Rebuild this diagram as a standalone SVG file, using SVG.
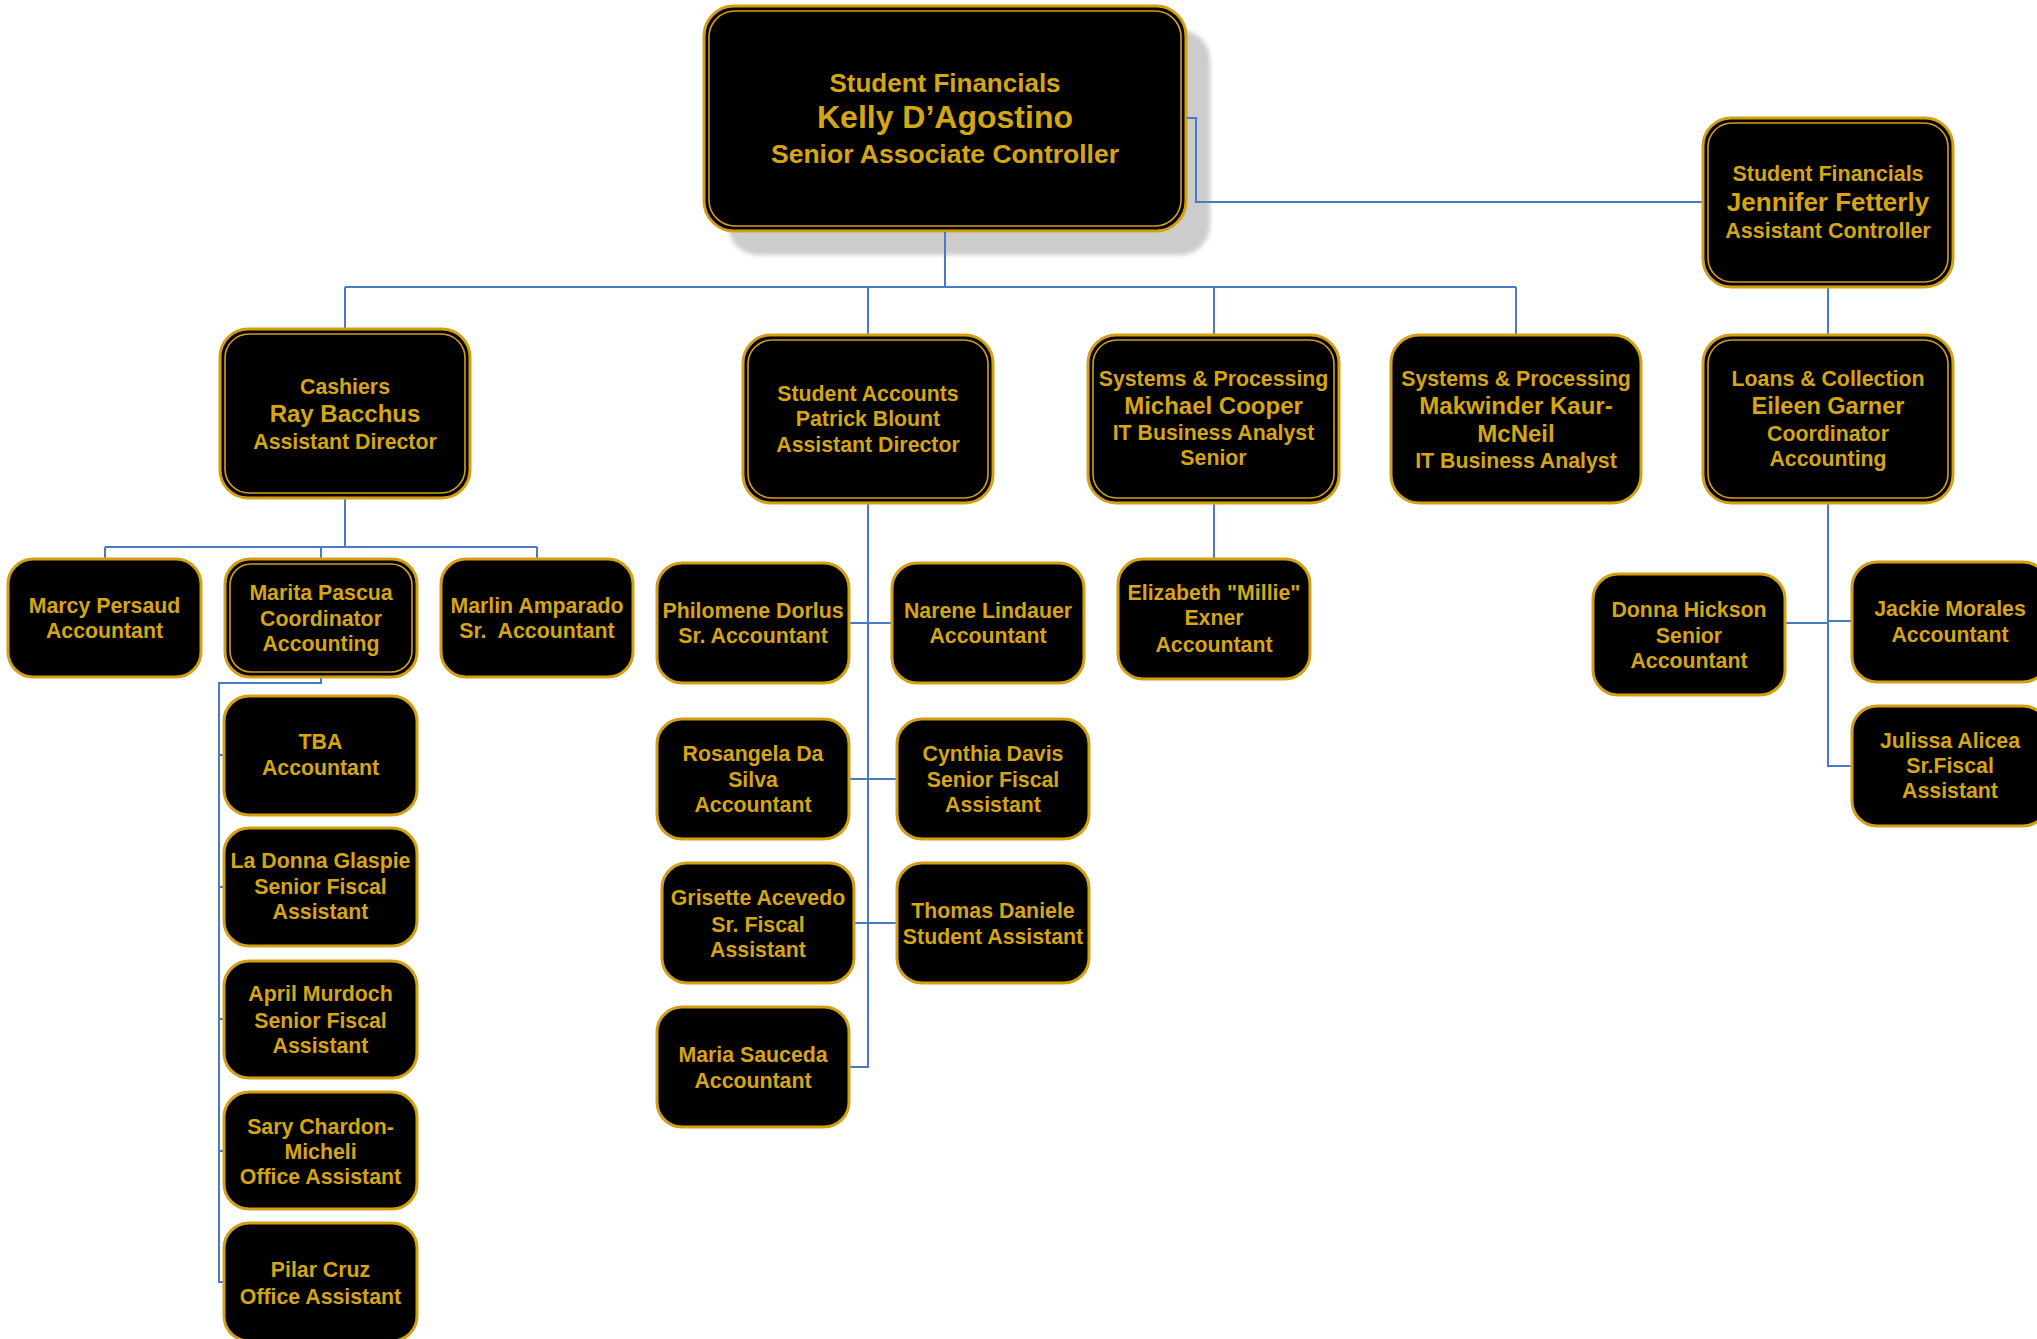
<svg xmlns="http://www.w3.org/2000/svg" width="2037" height="1339" viewBox="0 0 2037 1339">
<defs>
<filter id="soft" x="-5%" y="-5%" width="110%" height="110%"><feGaussianBlur stdDeviation="2"/></filter>
</defs>
<style>
.box{fill:#000;stroke:#D4A012;stroke-width:3}
.inner{fill:none;stroke:#D4A012;stroke-width:1.6}
.t{font-family:"Liberation Sans",Arial,sans-serif;font-weight:bold;fill:#D6A512;text-anchor:middle;font-size:21.3px}
.n{font-size:24px}
.c{stroke:#4A7AC6;stroke-width:2;fill:none}
</style>
<rect width="2037" height="1339" fill="#fff"/>
<g id="n-top">
<rect x="728" y="30" width="482" height="225" rx="30" fill="#CCCCCC" filter="url(#soft)"/>
<rect class="box" x="704" y="6" width="482" height="225" rx="30"/>
<rect class="inner" x="709" y="11" width="472" height="215" rx="26"/>
<text class="t" x="945" y="92" style="font-size:26px">Student Financials</text>
<text class="t" x="945" y="128" style="font-size:32px">Kelly D’Agostino</text>
<text class="t" x="945" y="163" style="font-size:26.5px">Senior Associate Controller</text>
</g>
<g id="connectors">
<path class="c" d="M1187,118 H1196 V202 H1703"/>
<path class="c" d="M945,232 V287"/>
<path class="c" d="M345,287 H1516"/>
<path class="c" d="M345,287 V328 M868,287 V334 M1214,287 V334 M1516,287 V334"/>
<path class="c" d="M1828,288 V334"/>
<path class="c" d="M1828,504 V766 H1851 M1786,623 H1828 M1828,621 H1851"/>
<path class="c" d="M345,499 V547 M105,547 H537 M105,547 V558 M321,547 V558 M537,547 V558"/>
<path class="c" d="M321,678 V683 H219 V1282 H223 M219,755 H223 M219,887 H223 M219,1019 H223 M219,1151 H223"/>
<path class="c" d="M868,504 V1067 H850 M850,623 H891 M850,779 H896 M855,923 H896"/>
<path class="c" d="M1214,504 V558"/>
</g>
<g id="n-jennifer">
<rect class="box" x="1703" y="118" width="250" height="169" rx="28"/>
<rect class="inner" x="1708" y="123" width="240" height="159" rx="24"/>
<text class="t" x="1828" y="181" style="font-size:21.5px">Student Financials</text>
<text class="t" x="1828" y="211" style="font-size:26px">Jennifer Fetterly</text>
<text class="t" x="1828" y="238" style="font-size:21.5px">Assistant Controller</text>
</g>
<g id="n-loans">
<rect class="box" x="1703" y="335" width="250" height="168" rx="28"/>
<rect class="inner" x="1708" y="340" width="240" height="158" rx="24"/>
<text class="t" x="1828" y="386">Loans &amp; Collection</text>
<text class="t" x="1828" y="414" style="font-size:23.5px">Eileen Garner</text>
<text class="t" x="1828" y="441">Coordinator</text>
<text class="t" x="1828" y="466">Accounting</text>
</g>
<g id="n-cashiers">
<rect class="box" x="220" y="329" width="250" height="169" rx="28"/>
<rect class="inner" x="225" y="334" width="240" height="159" rx="24"/>
<text class="t" x="345" y="394">Cashiers</text>
<text class="t n" x="345" y="422">Ray Bacchus</text>
<text class="t" x="345" y="449">Assistant Director</text>
</g>
<g id="n-studentaccounts">
<rect class="box" x="743" y="335" width="250" height="168" rx="28"/>
<rect class="inner" x="748" y="340" width="240" height="158" rx="24"/>
<text class="t" x="868" y="401">Student Accounts</text>
<text class="t" x="868" y="426">Patrick Blount</text>
<text class="t" x="868" y="452">Assistant Director</text>
</g>
<g id="n-cooper">
<rect class="box" x="1088" y="335" width="251" height="168" rx="28"/>
<rect class="inner" x="1093" y="340" width="241" height="158" rx="24"/>
<text class="t" x="1213.5" y="386">Systems &amp; Processing</text>
<text class="t n" x="1213.5" y="414">Michael Cooper</text>
<text class="t" x="1213.5" y="440">IT Business Analyst</text>
<text class="t" x="1213.5" y="465">Senior</text>
</g>
<g id="n-makwinder">
<rect class="box" x="1391" y="335" width="250" height="168" rx="28"/>
<text class="t" x="1516" y="386">Systems &amp; Processing</text>
<text class="t n" x="1516" y="414">Makwinder Kaur-</text>
<text class="t n" x="1516" y="442">McNeil</text>
<text class="t" x="1516" y="468">IT Business Analyst</text>
</g>
<g id="n-marcy">
<rect class="box" x="8" y="559" width="193" height="118" rx="25"/>
<text class="t" x="104.5" y="613">Marcy Persaud</text>
<text class="t" x="104.5" y="638">Accountant</text>
</g>
<g id="n-marita">
<rect class="box" x="225" y="559" width="192" height="118" rx="25"/>
<rect class="inner" x="230" y="564" width="182" height="108" rx="21"/>
<text class="t" x="321" y="600">Marita Pascua</text>
<text class="t" x="321" y="626">Coordinator</text>
<text class="t" x="321" y="651">Accounting</text>
</g>
<g id="n-marlin">
<rect class="box" x="441" y="559" width="192" height="118" rx="25"/>
<text class="t" x="537" y="613">Marlin Amparado</text>
<text class="t" x="537" y="638" xml:space="preserve">Sr.  Accountant</text>
</g>
<g id="n-elizabeth">
<rect class="box" x="1118" y="559" width="192" height="120" rx="25"/>
<text class="t" x="1214" y="600">Elizabeth "Millie"</text>
<text class="t" x="1214" y="625">Exner</text>
<text class="t" x="1214" y="652">Accountant</text>
</g>
<g id="n-philomene">
<rect class="box" x="657" y="563" width="192" height="120" rx="25"/>
<text class="t" x="753" y="618">Philomene Dorlus</text>
<text class="t" x="753" y="643">Sr. Accountant</text>
</g>
<g id="n-narene">
<rect class="box" x="892" y="563" width="192" height="120" rx="25"/>
<text class="t" x="988" y="618">Narene Lindauer</text>
<text class="t" x="988" y="643">Accountant</text>
</g>
<g id="n-rosangela">
<rect class="box" x="657" y="719" width="192" height="120" rx="25"/>
<text class="t" x="753" y="761">Rosangela Da</text>
<text class="t" x="753" y="787">Silva</text>
<text class="t" x="753" y="812">Accountant</text>
</g>
<g id="n-cynthia">
<rect class="box" x="897" y="719" width="192" height="120" rx="25"/>
<text class="t" x="993" y="761">Cynthia Davis</text>
<text class="t" x="993" y="787">Senior Fiscal</text>
<text class="t" x="993" y="812">Assistant</text>
</g>
<g id="n-grisette">
<rect class="box" x="662" y="863" width="192" height="120" rx="25"/>
<text class="t" x="758" y="905">Grisette Acevedo</text>
<text class="t" x="758" y="932">Sr. Fiscal</text>
<text class="t" x="758" y="957">Assistant</text>
</g>
<g id="n-thomas">
<rect class="box" x="897" y="863" width="192" height="120" rx="25"/>
<text class="t" x="993" y="918">Thomas Daniele</text>
<text class="t" x="993" y="944">Student Assistant</text>
</g>
<g id="n-maria">
<rect class="box" x="657" y="1007" width="192" height="120" rx="25"/>
<text class="t" x="753" y="1062">Maria Sauceda</text>
<text class="t" x="753" y="1088">Accountant</text>
</g>
<g id="n-donna">
<rect class="box" x="1593" y="574" width="192" height="121" rx="25"/>
<text class="t" x="1689" y="617">Donna Hickson</text>
<text class="t" x="1689" y="643">Senior</text>
<text class="t" x="1689" y="668">Accountant</text>
</g>
<g id="n-jackie">
<rect class="box" x="1852" y="562" width="196" height="120" rx="25"/>
<text class="t" x="1950" y="616">Jackie Morales</text>
<text class="t" x="1950" y="642">Accountant</text>
</g>
<g id="n-julissa">
<rect class="box" x="1852" y="706" width="196" height="120" rx="25"/>
<text class="t" x="1950" y="748">Julissa Alicea</text>
<text class="t" x="1950" y="773">Sr.Fiscal</text>
<text class="t" x="1950" y="798">Assistant</text>
</g>
<g id="n-tba">
<rect class="box" x="224" y="696" width="193" height="119" rx="25"/>
<text class="t" x="320.5" y="749">TBA</text>
<text class="t" x="320.5" y="775">Accountant</text>
</g>
<g id="n-ladonna">
<rect class="box" x="224" y="828" width="193" height="118" rx="25"/>
<text class="t" x="320.5" y="868">La Donna Glaspie</text>
<text class="t" x="320.5" y="894">Senior Fiscal</text>
<text class="t" x="320.5" y="919">Assistant</text>
</g>
<g id="n-april">
<rect class="box" x="224" y="961" width="193" height="117" rx="25"/>
<text class="t" x="320.5" y="1001">April Murdoch</text>
<text class="t" x="320.5" y="1028">Senior Fiscal</text>
<text class="t" x="320.5" y="1053">Assistant</text>
</g>
<g id="n-sary">
<rect class="box" x="224" y="1092" width="193" height="117" rx="25"/>
<text class="t" x="320.5" y="1134">Sary Chardon-</text>
<text class="t" x="320.5" y="1159">Micheli</text>
<text class="t" x="320.5" y="1184">Office Assistant</text>
</g>
<g id="n-pilar">
<rect class="box" x="224" y="1223" width="193" height="118" rx="25"/>
<text class="t" x="320.5" y="1277">Pilar Cruz</text>
<text class="t" x="320.5" y="1304">Office Assistant</text>
</g>
</svg>
